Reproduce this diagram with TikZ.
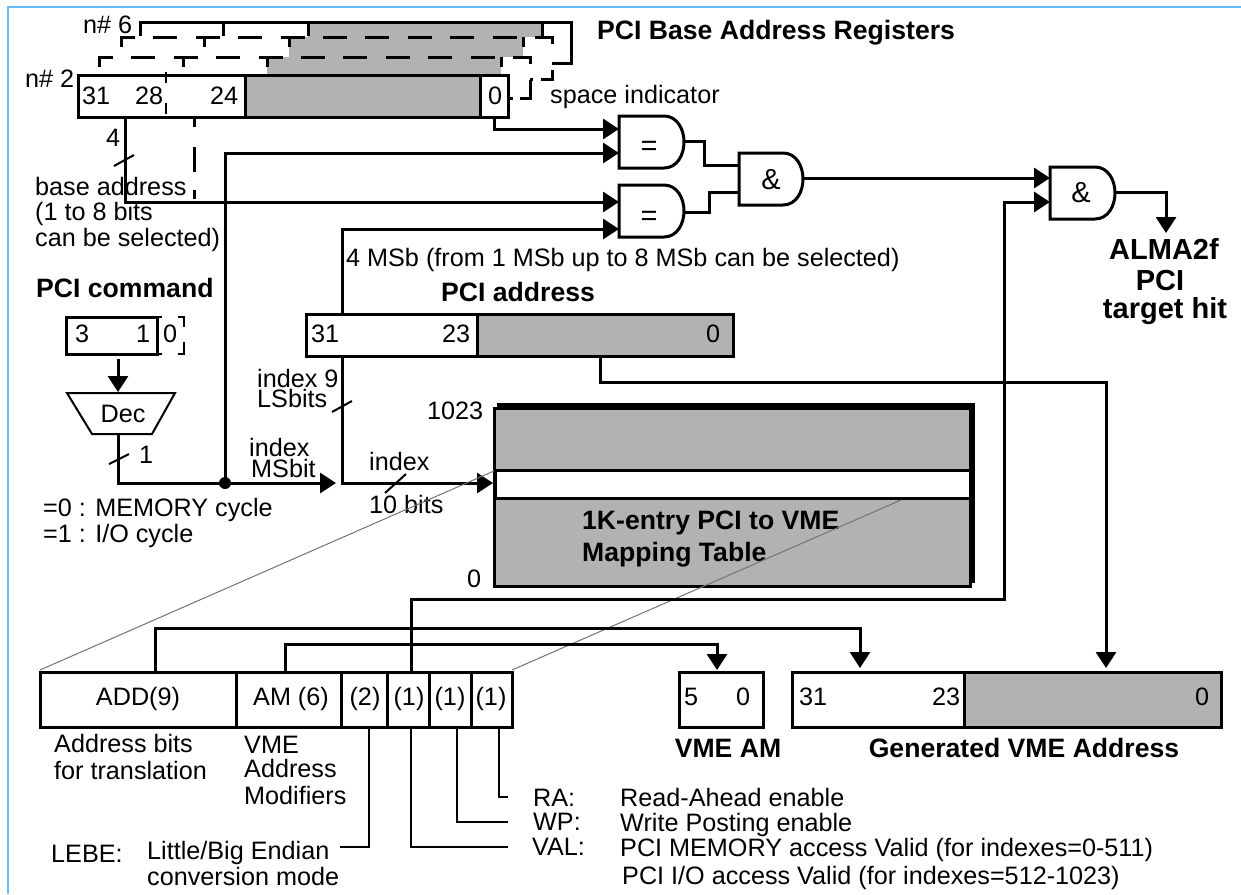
\documentclass[tikz,border=0pt]{standalone}
\usepackage{fontspec}
\setmainfont{Liberation Sans}
\usetikzlibrary{arrows.meta}
\definecolor{regfill}{RGB}{178,178,178}
\definecolor{framecol}{RGB}{102,187,255}
\tikzset{
  lbl/.style={anchor=west,inner sep=0pt,text height=18pt,text depth=0pt,font=\fontsize{25.2}{28}\selectfont},
  ctr/.style={lbl,anchor=center},
  bold/.style={ctr,text height=19pt,font=\fontsize{26.6}{28}\selectfont\bfseries},
  hittxt/.style={bold,text height=20pt,font=\fontsize{29}{30}\selectfont\bfseries},
  gatetxt/.style={ctr,text height=20pt,font=\fontsize{29}{30}\selectfont},
  wire/.style={line width=3pt},
  thin wire/.style={line width=2pt},
  arrow/.style={wire,-{Triangle[length=16pt,width=20pt]}},
  dash wire/.style={line width=3pt,dash pattern=on 24pt off 18.4pt},
  zoomline/.style={line width=1pt,color=black!55},
  gatebox/.style={line width=3pt,fill=white,line join=miter}
}
\newcommand{\gate}[5]{% name, left, top, right, bottom
  \draw[gatebox] (#2,#3)--(#4-20,#3) .. controls (#4-7,#3) and (#4,#3+13) .. (#4,#3/2+#5/2) .. controls (#4,#5-13) and (#4-7,#5) .. (#4-20,#5)--(#2,#5)--cycle;
  \coordinate(#1) at (#2,#3/2+#5/2);
}
\begin{document}
\begin{tikzpicture}[x=1pt,y=-1pt]
  \useasboundingbox (0,0) rectangle (1241,894);
  \draw[framecol,line width=2.4pt] (8,894)--(8,7)--(1241,7);

  % base address registers
  \fill[regfill] (308,24) rectangle (542,37);
  \fill[regfill] (289,37) rectangle (523,57);
  \fill[regfill] (267,57) rectangle (501,75);
  \coordinate(r6a) at (140,36);
  \coordinate(r6b) at (571,22);
  \coordinate(r6c) at (552,63);
  \draw[wire] (r6a)|-(r6b)--(r6c-|r6b)--(r6c);
  \draw[wire] (223,22)--(223,36)(308,22)--(308,36)(542,22)--(542,37);
  \coordinate(r5a) at (121,47);
  \coordinate(r5b) at (552,37);
  \coordinate(r5c) at (552,47);
  \draw[dash wire] (r5a)|-(r5b)--(r5c);
  \draw[wire] (552,70)|-(541,79)(533,79)--(530,79);
  \draw[wire] (204,37)--(204,47)(289,37)--(289,47)(523,37)--(523,47);
  \coordinate(r4a) at (99,67);
  \coordinate(r4b) at (530,57);
  \coordinate(r4c) at (530,67);
  \draw[dash wire] (r4a)|-(r4b)--(r4c);
  \draw[wire] (530,80)|-(520,98)(513,98)--(510,98);
  \draw[wire] (183,57)--(183,67)(267,57)--(267,67)(501,57)--(501,67);
  \draw[wire,fill=white] (78,75) rectangle (508,117);
  \fill[regfill] (245,75) rectangle (480,117);
  \draw[wire] (78,75) rectangle (508,117);
  \draw[wire] (245,75)--(245,117)(480,75)--(480,117);
  \draw[thin wire,dash pattern=on 11pt off 20pt] (166,72)--(166,117);
  \node[lbl](n6) at (83,24){n\# 6};
  \node[lbl](n2) at (25,78){n\# 2};
  \node[lbl](b31) at (82,95){31};
  \node[lbl](b28) at (135,95){28};
  \node[lbl](b24) at (210,95){24};
  \node[lbl](b0) at (488,95){0};
  \node[bold,anchor=west](title) at (597,30){PCI Base Address Registers};
  \node[lbl](space) at (550,94){space indicator};

  % gates
  \gate{g1}{619}{116}{684}{168}
  \gate{g2}{619}{185}{684}{237}
  \gate{g3}{739}{153}{803}{205}
  \gate{g4}{1050}{167}{1115}{219}
  \node[gatetxt](eq1) at (649,145){=};
  \node[gatetxt](eq2) at (649,215){=};
  \node[gatetxt](and1) at (771,179){\&};
  \node[gatetxt](and2) at (1081,192){\&};

  % wires to the gates
  \coordinate(w0) at (494,117);
  \coordinate(w1) at (619,129);
  \coordinate(w2) at (619,153);
  \coordinate(w3) at (619,202);
  \coordinate(w4) at (619,229);
  \coordinate(ba) at (125,117);
  \coordinate(dot) at (225,483);
  \coordinate(pa) at (342,314);
  \draw[arrow] (w0)|-(w1);
  \draw[arrow] (dot)|-(w2);
  \draw[arrow] (ba)|-(w3);
  \draw[arrow] (pa)|-(w4);
  \draw[wire,dash pattern=on 9pt off 20pt on 25pt off 18pt] (194,118)--(194,202);
  \draw[wire] (684,141)-|(704,165)--(739,165);
  \draw[wire] (684,212)-|(709,192)--(739,192);
  \draw[arrow] (803,178)--(1050,178);
  \coordinate(hit) at (1166,233);
  \draw[arrow] (1115,192)-|(hit);
  \coordinate(sl4a) at (114,166);
  \coordinate(sl4b) at (134,155);
  \draw[thin wire] (sl4a)--(sl4b);
  \node[lbl](four) at (106,137){4};
  \node[lbl](bal1) at (35,186){base address};
  \node[lbl](bal2) at (35,211){(1 to 8 bits};
  \node[lbl](bal3) at (35,237){can be selected)};
  \node[lbl](msb) at (346,257){4 MSb (from 1 MSb up to 8 MSb can be selected)};
  \node[hittxt](hit1) at (1164,249){ALMA2f};
  \node[hittxt](hit2) at (1160,280){PCI};
  \node[hittxt](hit3) at (1165,308){target hit};

  % pci command
  \node[bold,anchor=west](cmd) at (36,288){PCI command};
  \draw[wire] (66,317) rectangle (157,354);
  \draw[line width=2.4pt] (157,317)--(162,317)(178,317)-|(184,327)(184,342)|-(178,354)(162,354)--(157,354);
  \node[lbl](c3) at (75,333){3};
  \node[lbl](c1) at (136,333){1};
  \node[lbl](c0) at (163,333){0};
  \coordinate(dec) at (118,392);
  \draw[arrow] (118,359)--(dec);
  \draw[thin wire] (67,393)--(175,393)--(152,434)--(92,434)--cycle;
  \node[ctr](dectxt) at (123,413){Dec};
  \coordinate(decout) at (118,434);
  \coordinate(msbit) at (336,483);
  \draw[arrow] (decout)|-(msbit);
  \fill (dot) circle (6);
  \draw[thin wire] (109,464)--(129,454);
  \node[lbl](one) at (139,454){1};
  \node[lbl](ix1) at (249,447){index};
  \node[lbl](ix2) at (251,468){MSbit};
  \node[lbl](cy0) at (43,507){=0 : MEMORY cycle};
  \node[lbl](cy1) at (43,533){=1 : I/O cycle};

  % pci address
  \node[bold,anchor=west](addr) at (441,292){PCI address};
  \draw[wire,fill=white] (306,314) rectangle (733,356);
  \fill[regfill] (477,314) rectangle (733,356);
  \draw[wire] (306,314) rectangle (733,356)(477,314)--(477,356);
  \node[lbl](a31) at (311,333){31};
  \node[lbl](a23) at (442,333){23};
  \node[lbl](a0) at (706,333){0};
  \coordinate(ls) at (342,356);
  \coordinate(tab) at (493,483);
  \draw[arrow] (ls)|-(tab);
  \draw[thin wire] (332,412)--(352,401);
  \draw[thin wire] (385,493)--(406,474);
  \node[lbl](ls1) at (257,378){index 9};
  \node[lbl](ls2) at (257,398){LSbits};
  \node[lbl](ix3) at (369,461){index};
  \node[lbl](ix4) at (369,504){10 bits};

  % mapping table
  \fill[black] (497,403) rectangle (975,583);
  \draw[wire,fill=regfill] (494,408) rectangle (970,586);
  \draw[wire,fill=white] (495,470) rectangle (970,498);
  \node[lbl](t1023) at (427,410){1023};
  \node[lbl](t0) at (467,578){0};
  \node[bold,anchor=west](tb1) at (582,520){1K-entry PCI to VME};
  \node[bold,anchor=west](tb2) at (582,552){Mapping Table};
  \coordinate(hi) at (600,356);
  \coordinate(lo) at (1106,668);
  \draw[arrow] (hi)|-(1106,382)--(lo);

  % mapping entry
  \draw[wire] (40,672) rectangle (512,727);
  \draw[wire] (236,672)--(236,727)(341,672)--(341,727)(387,672)--(387,727)(429,672)--(429,727)(471,672)--(471,727);
  \coordinate(ent1) at (40,670);
  \coordinate(ent2) at (512,670);
  \coordinate(row1) at (494,471);
  \coordinate(row2) at (901,500);
  \draw[zoomline] (ent1)--(row1)(ent2)--(row2);
  \node[ctr](add) at (138,696){ADD(9)};
  \node[ctr](am) at (291,696){AM (6)};
  \node[ctr](f2) at (365,696){(2)};
  \node[ctr](f1a) at (409,696){(1)};
  \node[ctr](f1b) at (450,696){(1)};
  \node[ctr](f1c) at (491,696){(1)};

  % output registers
  \draw[wire] (679,672) rectangle (763,727);
  \node[lbl](m5) at (684,696){5};
  \node[lbl](m0) at (736,696){0};
  \draw[wire,fill=white] (792,672) rectangle (1221,727);
  \fill[regfill] (964,672) rectangle (1221,727);
  \draw[wire] (792,672) rectangle (1221,727)(964,672)--(964,727);
  \node[lbl](v31) at (799,696){31};
  \node[lbl](v23) at (932,696){23};
  \node[lbl](v0) at (1195,696){0};
  \node[bold](vam) at (728,748){VME AM};
  \node[bold](vaddr) at (1024,748){Generated VME Address};
  \coordinate(fadd) at (155,672);
  \coordinate(fam) at (285,672);
  \coordinate(fval) at (411,672);
  \coordinate(gv) at (860,668);
  \coordinate(gm) at (717,670);
  \draw[arrow] (fadd)|-(860,628)--(gv);
  \draw[arrow] (fam)|-(717,644)--(gm);
  \draw[arrow] (fval)|-(1004,599)|-(1050,202);

  % field descriptions
  \node[lbl](d1) at (54,743){Address bits};
  \node[lbl](d2) at (54,770){for translation};
  \node[lbl](d3) at (244,744){VME};
  \node[lbl](d4) at (244,768){Address};
  \node[lbl](d5) at (244,795){Modifiers};
  \node[lbl](lebe) at (51,853){LEBE:};
  \node[lbl](d6) at (147,850){Little/Big Endian};
  \node[lbl](d7) at (147,876){conversion mode};
  \node[lbl](ra) at (533,797){RA:};
  \node[lbl](wp) at (533,821){WP:};
  \node[lbl](val) at (532,846){VAL:};
  \node[lbl](d8) at (620,797){Read-Ahead enable};
  \node[lbl](d9) at (620,822){Write Posting enable};
  \node[lbl](d10) at (620,847){PCI MEMORY access Valid (for indexes=0-511)};
  \node[lbl](d11) at (622,875){PCI I/O access Valid (for indexes=512-1023)};
  \draw[thin wire] (369,727)|-(340,847);
  \draw[thin wire] (411,727)|-(508,847);
  \draw[thin wire] (457,727)|-(508,822);
  \draw[thin wire] (499,727)|-(508,797);
\end{tikzpicture}
\end{document}
